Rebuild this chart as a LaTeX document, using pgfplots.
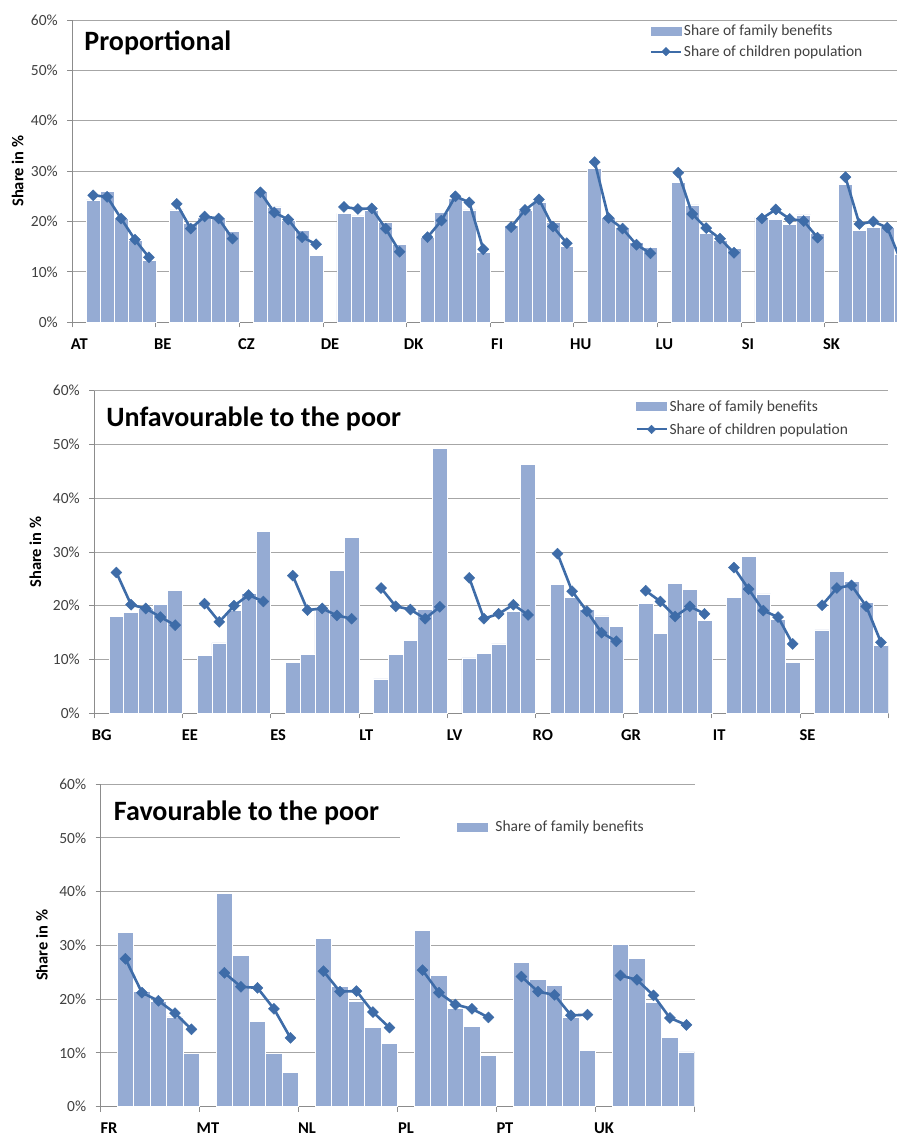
\documentclass[border=0pt]{standalone}
\usepackage{pgfplots}
\pgfplotsset{compat=1.18}
\usepackage{pgfplotstable}
\usepackage{fontspec}
\setmainfont{Carlito}
\definecolor{barc}{HTML}{95ABD3}
\definecolor{linec}{HTML}{3E6CA8}
\definecolor{gridc}{HTML}{A6A6A6}
\definecolor{axc}{HTML}{8C8C8C}
\definecolor{tickc}{HTML}{404040}

\pgfplotstableread{
x b l
0.5 nan nan
1.5 24.3 25.2
2.5 26.0 24.9
3.5 20.6 20.6
4.5 16.3 16.4
5.5 12.2 12.9
6.5 nan nan
7.5 22.3 23.5
8.5 19.6 18.6
9.5 20.9 21.0
10.5 20.8 20.6
11.5 18.1 16.6
12.5 nan nan
13.5 25.9 25.8
14.5 22.9 21.8
15.5 20.3 20.4
16.5 18.3 16.9
17.5 13.2 15.5
18.5 nan nan
19.5 21.6 22.9
20.5 21.1 22.5
21.5 22.2 22.6
22.5 19.9 18.6
23.5 15.4 14.0
24.5 nan nan
25.5 16.8 16.9
26.5 21.8 20.2
27.5 24.6 25.0
28.5 22.3 23.8
29.5 13.8 14.5
30.5 nan nan
31.5 19.2 18.9
32.5 22.3 22.3
33.5 23.9 24.4
34.5 19.9 19.0
35.5 15.1 15.7
36.5 nan nan
37.5 30.6 31.8
38.5 20.9 20.7
39.5 18.8 18.6
40.5 15.9 15.4
41.5 14.9 13.7
42.5 nan nan
43.5 27.8 29.7
44.5 23.3 21.5
45.5 17.7 18.7
46.5 16.3 16.6
47.5 14.7 13.8
48.5 nan nan
49.5 20.9 20.6
50.5 20.5 22.4
51.5 19.5 20.5
52.5 21.3 20.1
53.5 17.7 16.8
54.5 nan nan
55.5 27.4 28.8
56.5 18.3 19.5
57.5 18.9 20.0
58.5 18.8 18.8
59.5 13.5 12.0
}\dataA

\pgfplotstableread{
x b l
0.5 nan nan
1.5 18.0 26.2
2.5 18.8 20.2
3.5 19.5 19.5
4.5 20.2 17.9
5.5 22.8 16.4
6.5 nan nan
7.5 10.7 20.4
8.5 13.1 17.0
9.5 19.1 20.0
10.5 22.3 22.0
11.5 33.9 20.8
12.5 nan nan
13.5 9.4 25.6
14.5 11.0 19.2
15.5 19.6 19.5
16.5 26.6 18.2
17.5 32.7 17.6
18.5 nan nan
19.5 6.4 23.3
20.5 11.0 19.9
21.5 13.6 19.3
22.5 19.3 17.6
23.5 49.3 19.8
24.5 nan nan
25.5 10.3 25.2
26.5 11.2 17.6
27.5 12.9 18.5
28.5 19.0 20.2
29.5 46.3 18.3
30.5 nan nan
31.5 24.0 29.7
32.5 21.5 22.7
33.5 19.3 19.0
34.5 18.1 15.0
35.5 16.2 13.4
36.5 nan nan
37.5 20.5 22.8
38.5 14.9 20.8
39.5 24.1 18.0
40.5 23.1 19.9
41.5 17.2 18.5
42.5 nan nan
43.5 21.6 27.1
44.5 29.2 23.1
45.5 22.2 19.1
46.5 17.5 17.9
47.5 9.5 12.9
48.5 nan nan
49.5 15.5 20.1
50.5 26.4 23.3
51.5 24.6 23.8
52.5 20.6 19.9
53.5 12.6 13.2
}\dataB

\pgfplotstableread{
x b l
0.5 nan nan
1.5 32.4 27.5
2.5 21.5 21.2
3.5 19.5 19.7
4.5 16.7 17.4
5.5 10.0 14.4
6.5 nan nan
7.5 39.6 24.9
8.5 28.2 22.3
9.5 15.9 22.1
10.5 10.0 18.2
11.5 6.3 12.8
12.5 nan nan
13.5 31.3 25.2
14.5 22.4 21.4
15.5 19.6 21.5
16.5 14.8 17.6
17.5 11.7 14.7
18.5 nan nan
19.5 32.8 25.4
20.5 24.4 21.2
21.5 18.3 19.0
22.5 15.0 18.2
23.5 9.6 16.6
24.5 nan nan
25.5 26.9 24.2
26.5 23.6 21.4
27.5 22.5 20.8
28.5 16.7 17.0
29.5 10.4 17.1
30.5 nan nan
31.5 30.1 24.4
32.5 27.5 23.6
33.5 19.4 20.7
34.5 12.9 16.5
35.5 10.2 15.2
}\dataC

\tikzset{ttl/.style={anchor=base west, font=\fontsize{28}{32}\selectfont\bfseries, inner sep=0pt}}

\pgfplotsset{
  panel/.style={
    scale only axis, anchor=south west,
    ymin=0, ymax=60, ytick={0,10,...,60},
    yticklabel={\pgfmathprintnumber{\tick}\%},
    /pgf/number format/assume math mode=true,
    ymajorgrids, major grid style={draw=gridc, line width=0.9pt},
    axis lines*=left,
    axis line style={draw=axc, line width=0.9pt},
    tick align=outside, major tick length=5pt,
    tick style={draw=axc, line width=0.9pt},
    xmin=0,
    y tick label style={font=\fontsize{15.5}{18}\selectfont, text=tickc, xshift=-6pt},
    x tick label style={font=\fontsize{16.5}{19}\selectfont\bfseries, text=black, anchor=north, yshift=-8pt},
    ylabel style={font=\fontsize{16.5}{19}\selectfont\bfseries, anchor=center},
    ylabel={Share in \%},
    legend style={draw=none, fill=none, inner xsep=0pt, inner ysep=0pt,
      font=\fontsize{15.5}{18}\selectfont, text=tickc},
    legend cell align=left,
  },
  bars/.style={ybar, bar width=1, bar shift=0pt, fill=barc, draw=white, line width=0.7pt,
    legend image code/.code={\fill[barc] (0pt,-4pt) rectangle (30pt,4pt);}},
  lin/.style={color=linec, line width=2.6pt, mark=square*, mark size=3.9pt,
    mark options={rotate=45, fill=linec, draw=linec, line width=0.4pt},
    unbounded coords=jump,
    legend image code/.code={\draw[#1, line width=2pt, mark size=3pt, mark repeat=2, mark phase=2] plot coordinates {(0pt,0pt) (15pt,0pt) (30pt,0pt)};}},
}

\begin{document}
\begin{tikzpicture}
\useasboundingbox (0pt,0pt) rectangle (897pt,-1138pt);

\begin{axis}[panel, at={(72.3pt,-322.3pt)}, width=824.7pt, height=302.3pt,
  xmax=59.2, xtick={0,6,...,54},
  xticklabels={AT,BE,CZ,DE,DK,FI,HU,LU,SI,SK},
  x tick label style={xshift=6.97pt},
  ylabel style={at={(axis description cs:-0.0664,0.5)}},
  legend style={at={(axis description cs:0.7002,0.990)}, anchor=north west, row sep=4pt}]
\addplot[bars] table[x=x,y=b]{\dataA};
\addplot[lin] table[x=x,y=l]{\dataA};
\node[ttl] at (rel axis cs:0.0145,0.90) {Proportional};
\legend{Share of family benefits, Share of children population}
\end{axis}

\begin{axis}[panel, at={(94.3pt,-713.3pt)}, width=794pt, height=322.6pt,
  xmax=54, xtick={0,6,...,54},
  xticklabels={BG,EE,ES,LT,LV,RO,GR,IT,SE,{}},
  x tick label style={xshift=7.35pt},
  ylabel style={at={(axis description cs:-0.0741,0.5)}},
  legend style={at={(axis description cs:0.6814,0.9766)}, anchor=north west, row sep=6.6pt}]
\addplot[bars] table[x=x,y=b]{\dataB};
\addplot[lin] table[x=x,y=l]{\dataB};
\node[ttl] at (rel axis cs:0.015,0.888) {Unfavourable to the poor};
\legend{Share of family benefits, Share of children population}
\end{axis}

\begin{axis}[panel, at={(100.7pt,-1106.7pt)}, width=594pt, height=322.7pt,
  xmax=36, xtick={0,6,...,36},
  xticklabels={FR,MT,NL,PL,PT,UK,{}},
  x tick label style={xshift=8.25pt},
  ylabel style={at={(axis description cs:-0.0988,0.5)}},
  legend style={at={(axis description cs:0.503,0.9045)}, anchor=north west, fill=white, inner ysep=4pt}]
\addplot[bars, legend image code/.code={\path (0pt,0pt) (93pt,0pt); \fill[barc] (57pt,-4pt) rectangle (87pt,4pt);}] table[x=x,y=b]{\dataC};
\addplot[lin, forget plot] table[x=x,y=l]{\dataC};
\node[ttl] at (rel axis cs:0.022,0.888) {Favourable to the poor};
\legend{\makebox[200pt][l]{Share of family benefits}}
\end{axis}
\end{tikzpicture}
\end{document}
